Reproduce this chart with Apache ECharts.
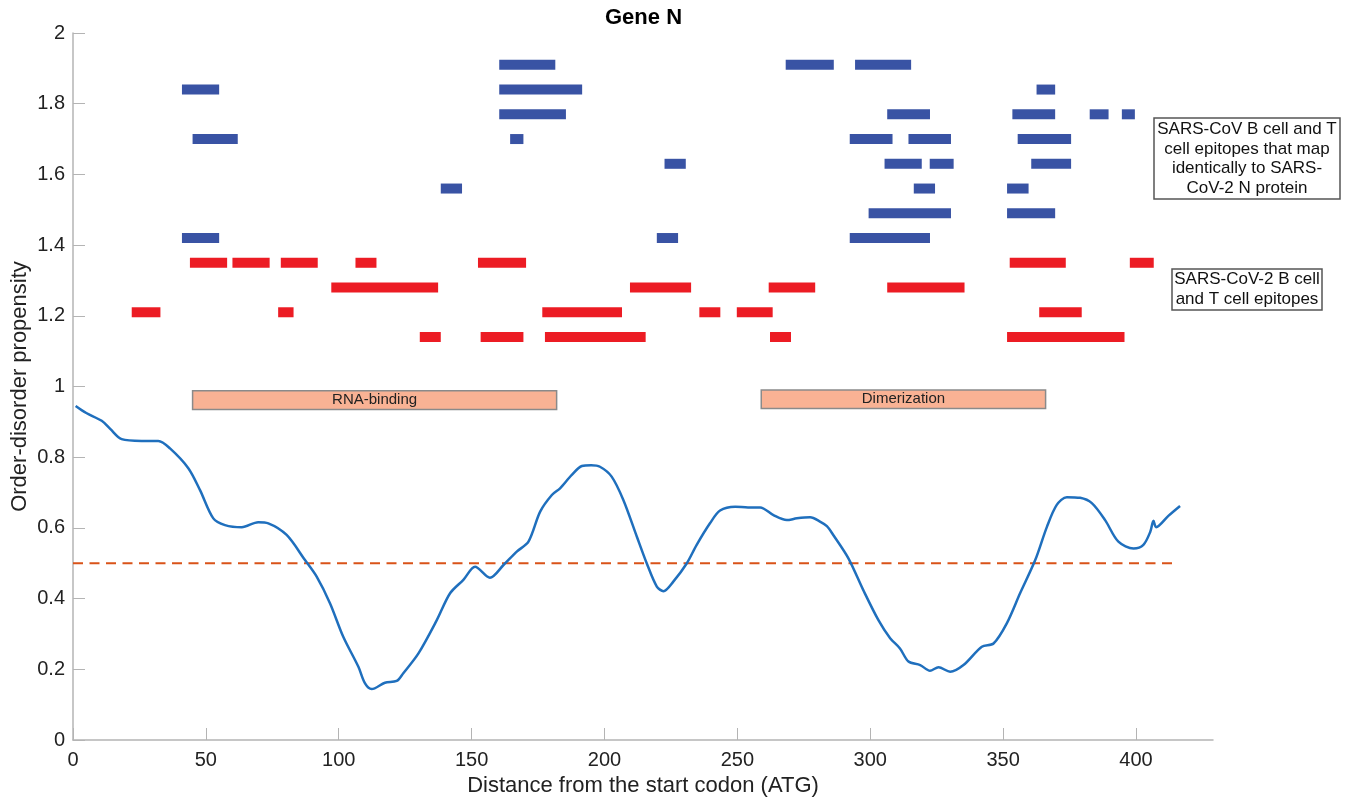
<!DOCTYPE html>
<html>
<head>
<meta charset="utf-8">
<script src="https://cdn.jsdelivr.net/npm/echarts@6/dist/echarts.min.js"></script>
<style>
  html, body { margin: 0; padding: 0; background: #fff; }
  #chart { width: 1349px; height: 798px; }
</style>
</head>
<body>
<div id="chart"></div>
<script>
// ---------- data ----------
const xTicks = [0, 50, 100, 150, 200, 250, 300, 350, 400];
const yTicks = [0, 0.2, 0.4, 0.6, 0.8, 1, 1.2, 1.4, 1.6, 1.8, 2];

// order-disorder propensity curve [position, value]
const curveX = [1, 5, 10.8, 14, 18.3, 25.8, 32.1, 36.5, 43.4, 47.8, 52.8, 57.2, 63.5, 69.7, 73.5, 80.4, 87.3, 91.7, 96.7, 101.7,
  107.4, 109.9, 112.4, 117.4, 121.8, 124.3, 130, 136.9, 141.9, 146.9, 151.3, 156.9, 162, 167, 171.4, 175.8, 180.2, 183.3, 187.7, 191.5,
  195, 198.3, 202.7, 207.1, 212.2, 215.9, 219.7, 222.2, 225.9, 231, 234.7, 239.7, 243.5, 249.2, 254, 258.6, 263.6, 268.6, 272.4, 277.4,
  281.1, 283.7, 286.1, 291.8, 297.4, 303.1, 307.5, 311.2, 314.4, 318.8, 322.5, 325.7, 330.1, 335.1, 342, 346.4, 351.4, 356.4, 362.1, 366.5,
  370.2, 374, 379, 383.4, 388.4, 393.4, 399.1, 402.8, 405.4, 406.6, 407.6, 412.2, 416.6];
const curveY = [0.945, 0.925, 0.903, 0.88, 0.851, 0.846, 0.846, 0.825, 0.769, 0.707, 0.627, 0.608, 0.602, 0.616, 0.613, 0.58, 0.509, 0.462, 0.387, 0.292,
  0.207, 0.16, 0.144, 0.162, 0.167, 0.189, 0.245, 0.339, 0.415, 0.453, 0.49, 0.459, 0.495, 0.533, 0.561, 0.646, 0.693, 0.712, 0.75, 0.775,
  0.777, 0.773, 0.745, 0.679, 0.575, 0.5, 0.434, 0.421, 0.448, 0.5, 0.552, 0.613, 0.649, 0.66, 0.658, 0.658, 0.636, 0.622, 0.627, 0.63,
  0.618, 0.605, 0.58, 0.514, 0.424, 0.339, 0.288, 0.259, 0.222, 0.212, 0.196, 0.206, 0.193, 0.212, 0.264, 0.273, 0.33, 0.415, 0.509, 0.603,
  0.665, 0.687, 0.685, 0.67, 0.622, 0.561, 0.542, 0.552, 0.589, 0.62, 0.602, 0.634, 0.662];

// threshold
const thresholdValue = 0.5;
const thresholdRange = [0, 416];

// SARS-CoV epitopes mapping identically to SARS-CoV-2 N [start, end, row]
const blueEpitopes = [
  [160.4, 181.5, 1.91], [268.2, 286.3, 1.91], [294.3, 315.4, 1.91],
  [41, 55, 1.84], [160.4, 191.6, 1.84], [362.6, 369.6, 1.84],
  [160.4, 185.5, 1.77], [306.4, 322.5, 1.77], [353.5, 369.6, 1.77], [382.6, 389.7, 1.77], [394.7, 399.6, 1.77],
  [45, 62, 1.70], [164.5, 169.5, 1.70], [292.3, 308.4, 1.70], [314.4, 330.4, 1.70], [355.5, 375.6, 1.70],
  [222.6, 230.6, 1.63], [305.4, 319.4, 1.63], [322.4, 331.4, 1.63], [360.6, 375.6, 1.63],
  [138.4, 146.4, 1.56], [316.4, 324.4, 1.56], [351.5, 359.6, 1.56],
  [299.4, 330.4, 1.49], [351.5, 369.6, 1.49],
  [41, 55, 1.42], [219.7, 227.7, 1.42], [292.3, 322.5, 1.42]
];

// SARS-CoV-2 B cell and T cell epitopes [start, end, row]
const redEpitopes = [
  [44, 58, 1.35], [60, 74, 1.35], [78.2, 92.1, 1.35], [106.3, 114.2, 1.35], [152.4, 170.5, 1.35], [352.5, 373.6, 1.35], [397.7, 406.7, 1.35],
  [97.2, 137.4, 1.28], [209.6, 232.6, 1.28], [261.8, 279.3, 1.28], [306.4, 335.5, 1.28],
  [22.1, 32.9, 1.21], [77.2, 83, 1.21], [176.6, 206.6, 1.21], [235.7, 243.6, 1.21], [249.8, 263.3, 1.21], [363.6, 379.6, 1.21],
  [130.5, 138.4, 1.14], [153.4, 169.5, 1.14], [177.6, 215.5, 1.14], [262.3, 270.2, 1.14], [351.5, 395.7, 1.14]
];

// protein domains [start, end, bottom, top, name]
const domains = [
  [45, 182, 0.935, 0.988, 'RNA-binding'],
  [259, 366, 0.938, 0.990, 'Dimerization']
];

// ---------- chart ----------
const FONT = '"Liberation Sans", Arial, Helvetica, sans-serif';
const chart = echarts.init(document.getElementById('chart'), null, { renderer: 'canvas' });

function barRenderer(color) {
  return function (params, api) {
    const p0 = api.coord([api.value(0), api.value(2)]);
    const p1 = api.coord([api.value(1), api.value(2)]);
    const h = 10;
    return {
      type: 'rect',
      shape: { x: p0[0], y: p0[1] - h / 2, width: p1[0] - p0[0], height: h },
      style: { fill: color }
    };
  };
}

const option = {
  backgroundColor: '#ffffff',
  animation: false,
  title: {
    text: 'Gene N',
    left: 605,
    top: 7,
    padding: 0,
    textStyle: { fontFamily: FONT, fontWeight: 'bold', fontSize: 22, color: '#000' }
  },
  grid: { left: 73, right: 136, top: 33, bottom: 58, containLabel: false, outerBoundsMode: 'none' },
  xAxis: {
    type: 'value',
    min: 0,
    max: 429,
    name: 'Distance from the start codon (ATG)',
    nameLocation: 'middle',
    nameGap: 35,
    nameMoveOverlap: false,
    nameTextStyle: { fontFamily: FONT, fontSize: 22, color: '#222' },
    axisLine: { show: true, lineStyle: { color: '#b4b4b4', width: 1.5 } },
    axisTick: { show: true, inside: true, length: 12, customValues: xTicks, lineStyle: { color: '#b4b4b4', width: 1 } },
    axisLabel: { customValues: xTicks, fontFamily: FONT, fontSize: 20, color: '#222', margin: 10 },
    splitLine: { show: false }
  },
  yAxis: {
    type: 'value',
    min: 0,
    max: 2,
    interval: 0.2,
    name: 'Order-disorder propensity',
    nameLocation: 'middle',
    nameGap: 42,
    nameMoveOverlap: false,
    nameTextStyle: { fontFamily: FONT, fontSize: 22, color: '#222' },
    axisLine: { show: true, lineStyle: { color: '#b4b4b4', width: 1.5 } },
    axisTick: { show: true, inside: true, length: 12, customValues: yTicks, lineStyle: { color: '#b4b4b4', width: 1 } },
    axisLabel: { customValues: yTicks, fontFamily: FONT, fontSize: 20, color: '#222', margin: 8,
      formatter: v => String(Math.round(v * 10) / 10) },
    splitLine: { show: false }
  },
  series: [
    {
      type: 'custom',
      name: 'domains',
      renderItem: function (params, api) {
        const p0 = api.coord([api.value(0), api.value(3)]);
        const p1 = api.coord([api.value(1), api.value(2)]);
        const label = domains[params.dataIndex][4];
        return {
          type: 'group',
          children: [
            {
              type: 'rect',
              shape: { x: p0[0], y: p0[1], width: p1[0] - p0[0], height: p1[1] - p0[1] },
              style: { fill: '#f9b294', stroke: '#8a8a8a', lineWidth: 1.5 }
            },
            {
              type: 'text',
              x: (p0[0] + p1[0]) / 2,
              y: (p0[1] + p1[1]) / 2,
              style: { text: label, fill: '#222', font: '15px ' + FONT, align: 'center', verticalAlign: 'middle' }
            }
          ]
        };
      },
      data: domains.map(d => [d[0], d[1], d[2], d[3]]),
      z: 2
    },
    {
      type: 'custom',
      name: 'SARS-CoV epitopes',
      renderItem: barRenderer('#3953a4'),
      data: blueEpitopes,
      z: 3
    },
    {
      type: 'custom',
      name: 'SARS-CoV-2 epitopes',
      renderItem: barRenderer('#ec1c24'),
      data: redEpitopes,
      z: 3
    },
    {
      type: 'line',
      name: 'threshold',
      data: thresholdRange.map(x => [x, thresholdValue]),
      symbol: 'none',
      lineStyle: { color: '#d95319', width: 2, type: [10, 6.5] },
      z: 4
    },
    {
      type: 'line',
      name: 'propensity',
      data: curveX.map((x, i) => [x, curveY[i]]),
      symbol: 'none',
      smooth: 0.3,
      lineStyle: { color: '#1f6fbd', width: 2.5 },
      z: 5
    }
  ],
  graphic: [
    {
      type: 'group',
      children: [
        { type: 'rect', shape: { x: 1154, y: 118, width: 186, height: 81 },
          style: { fill: '#fff', stroke: '#555', lineWidth: 1.5 } },
        { type: 'text', x: 1247, y: 159,
          style: { text: 'SARS-CoV B cell and T\ncell epitopes that map\nidentically to SARS-\nCoV-2 N protein',
            font: '17px ' + FONT, fill: '#111', align: 'center', verticalAlign: 'middle', lineHeight: 19.5 } }
      ]
    },
    {
      type: 'group',
      children: [
        { type: 'rect', shape: { x: 1172, y: 269, width: 150, height: 41 },
          style: { fill: '#fff', stroke: '#555', lineWidth: 1.5 } },
        { type: 'text', x: 1247, y: 289.5,
          style: { text: 'SARS-CoV-2 B cell\nand T cell epitopes',
            font: '17px ' + FONT, fill: '#111', align: 'center', verticalAlign: 'middle', lineHeight: 19.5 } }
      ]
    }
  ]
};
chart.setOption(option);
</script>
</body>
</html>
